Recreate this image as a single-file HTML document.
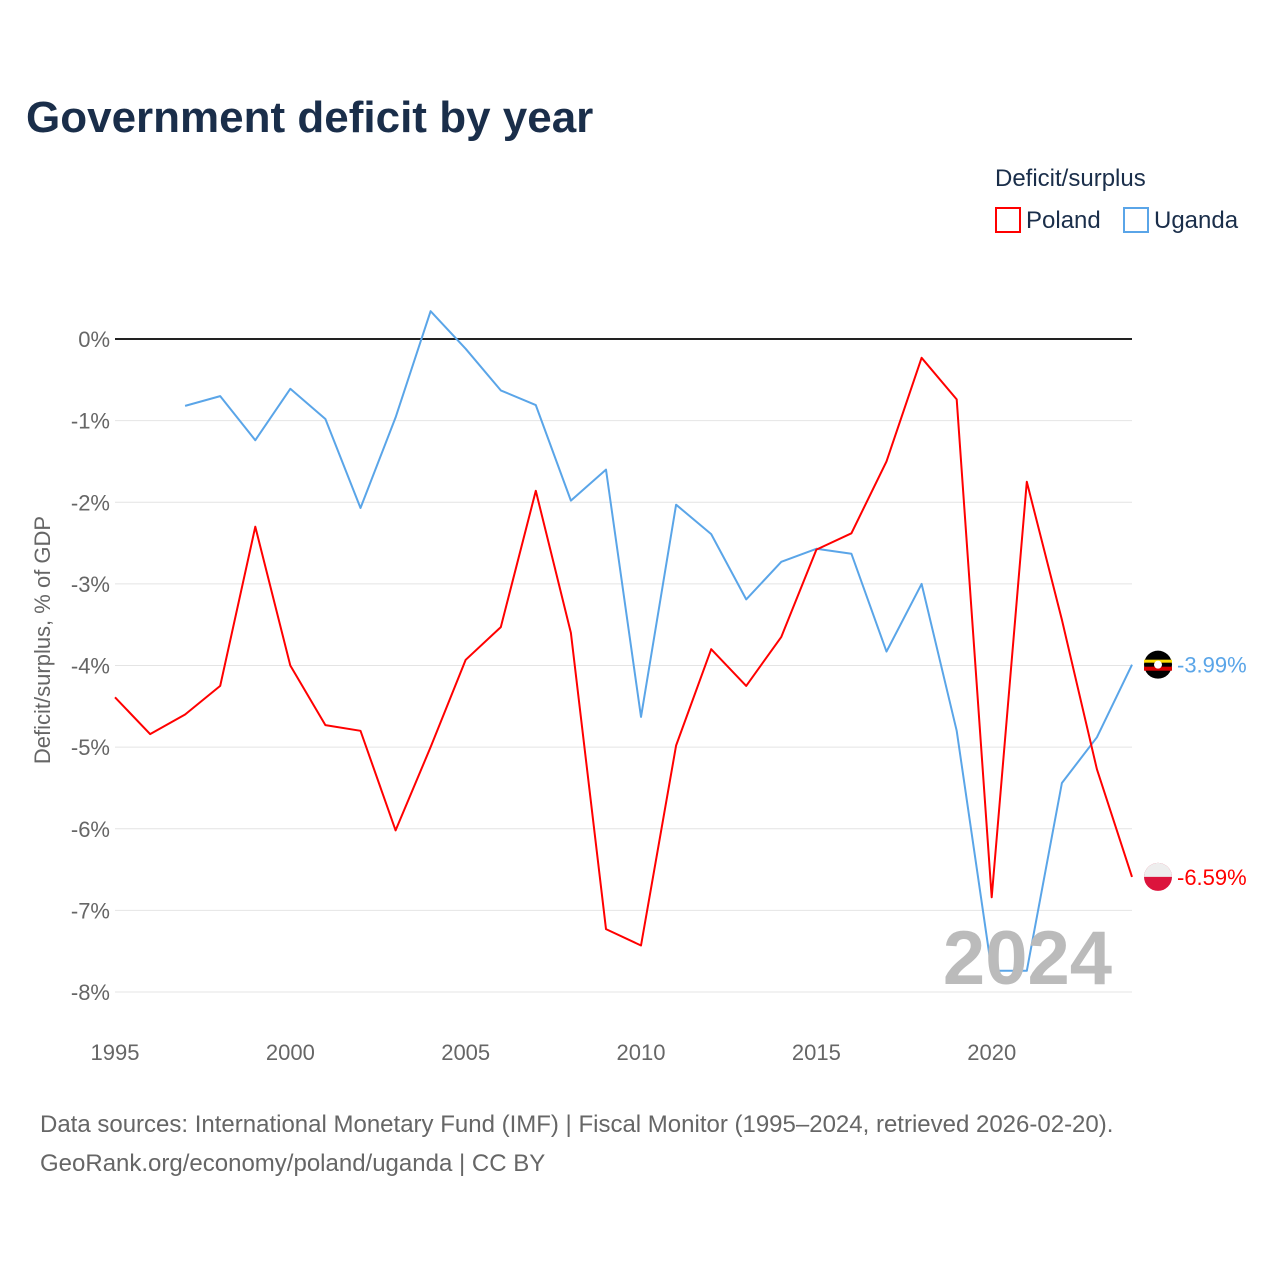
<!DOCTYPE html>
<html><head><meta charset="utf-8">
<style>
body{margin:0;background:#fff;font-family:"Liberation Sans",sans-serif;}
svg text{font-family:"Liberation Sans",sans-serif;}
</style></head>
<body>
<svg id="chart" width="1280" height="1280">
<text x="26" y="132" font-size="44" font-weight="bold" fill="#1a2e4a">Government deficit by year</text>
<text x="995" y="186" font-size="24" fill="#1a2e4a">Deficit/surplus</text>
<g><rect x="996" y="208" width="24" height="24" fill="none" stroke="#ff0000" stroke-width="2"/><text x="1026" y="228" font-size="24" fill="#1a2e4a">Poland</text></g>
<g><rect x="1124" y="208" width="24" height="24" fill="none" stroke="#5aa5e8" stroke-width="2"/><text x="1154" y="228" font-size="24" fill="#1a2e4a">Uganda</text></g>
<text transform="translate(50,640) rotate(-90)" text-anchor="middle" font-size="22" fill="#666">Deficit/surplus, % of GDP</text>
<g id="grid"></g><g id="series"></g>
<text x="1112" y="984" text-anchor="end" font-size="76" font-weight="bold" fill="#bbb">2024</text>
<text x="40" y="1132" font-size="24" fill="#666">Data sources: International Monetary Fund (IMF) | Fiscal Monitor (1995–2024, retrieved 2026-02-20).</text>
<text x="40" y="1171" font-size="24" fill="#666">GeoRank.org/economy/poland/uganda | CC BY</text>
</svg>
<script>
const years=[1995,1996,1997,1998,1999,2000,2001,2002,2003,2004,2005,2006,2007,2008,2009,2010,2011,2012,2013,2014,2015,2016,2017,2018,2019,2020,2021,2022,2023,2024];
const poland=[-4.39,-4.84,-4.6,-4.25,-2.30,-4.0,-4.73,-4.80,-6.02,-5.0,-3.93,-3.53,-1.86,-3.60,-7.23,-7.43,-4.98,-3.80,-4.25,-3.65,-2.58,-2.38,-1.50,-0.23,-0.74,-6.84,-1.75,-3.44,-5.27,-6.59];
const uganda=[null,null,-0.82,-0.70,-1.24,-0.61,-0.98,-2.07,-0.96,0.34,-0.12,-0.63,-0.81,-1.98,-1.60,-4.63,-2.03,-2.39,-3.19,-2.73,-2.57,-2.63,-3.83,-3.00,-4.80,-7.74,-7.74,-5.44,-4.88,-3.99];
const yTicks=[0,-1,-2,-3,-4,-5,-6,-7,-8];
const xTicks=[1995,2000,2005,2010,2015,2020];
const NS="http://www.w3.org/2000/svg";
const X=y=>115+(y-1995)*(1132-115)/29;
const Y=v=>339-v*(992-339)/8;
function mk(t,a,p){const e=document.createElementNS(NS,t);for(const k in a)e.setAttribute(k,a[k]);p.appendChild(e);return e;}
const g=document.getElementById('grid'),s=document.getElementById('series');
yTicks.forEach(v=>{
 const l=mk('line',{x1:115,x2:1132,y1:Y(v),y2:Y(v),stroke:v===0?'#222':'#e4e4e4','stroke-width':v===0?2:1},g);
 
 
 const t=mk('text',{x:110,y:Y(v)+8,'text-anchor':'end','font-size':22,fill:'#666'},g);
 t.textContent=v+'%';
 
 
});
xTicks.forEach(yr=>{
 const t=mk('text',{x:X(yr),y:1060,'text-anchor':'middle','font-size':22,fill:'#666'},g);
 t.textContent=yr;
 
 
});
function line(vals,col,name){
 const pts=[];vals.forEach((v,i)=>{if(v!==null)pts.push(X(years[i]).toFixed(1)+','+Y(v).toFixed(1));});
 const p=mk('polyline',{points:pts.join(' '),fill:'none',stroke:col,'stroke-width':2,'stroke-linejoin':'round'},s);
 
 
 const last=vals[vals.length-1];
 const yy=Y(last);
 const c=mk('circle',{cx:1158,cy:yy,r:14,fill:col==='#ff0000'?'#dc143c':'#000'},s);
 
 
 if(col==='#ff0000'){mk('path',{d:`M1144 ${yy} A14 14 0 0 1 1172 ${yy} Z`,fill:'#eee'},s);}
 else{mk('rect',{x:1144,y:yy-5,width:28,height:3,fill:'#fcdc04'},s);mk('rect',{x:1144,y:yy+2,width:28,height:4,fill:'#d90000'},s);mk('circle',{cx:1158,cy:yy,r:4,fill:'#fff'},s);}
 const t=mk('text',{x:1177,y:yy+8,'font-size':22,fill:col},s);
 t.textContent=last.toFixed(2)+'%';
 
 
}
line(uganda,'#5aa5e8','uganda-line');
line(poland,'#ff0000','poland-line');
</script>
</body></html>
